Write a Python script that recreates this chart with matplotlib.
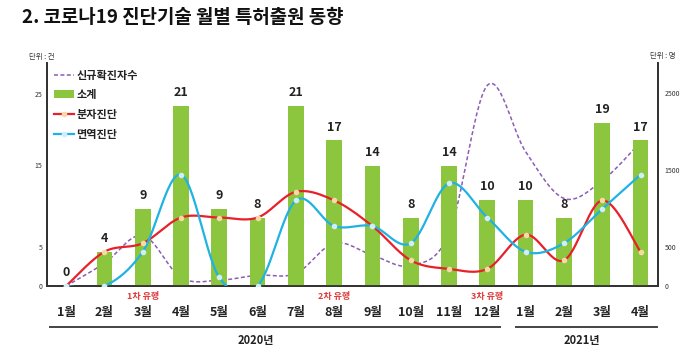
import numpy as np
import matplotlib
matplotlib.use("Agg")
import matplotlib.pyplot as plt
from matplotlib.lines import Line2D
from matplotlib.patches import Patch

plt.rcParams['font.family'] = ['Noto Sans CJK KR', 'DejaVu Sans']

# ---------------- data ----------------
months = ['1월', '2월', '3월', '4월', '5월', '6월', '7월', '8월', '9월', '10월', '11월', '12월',
          '1월', '2월', '3월', '4월']
subtotal = [0, 4, 9, 21, 9, 8, 21, 17, 14, 8, 14, 10, 10, 8, 19, 17]          # 소계 (건)
molecular = [0, 4, 5, 8, 8, 8, 11, 10, 7, 3, 2, 2, 6, 3, 10, 4]                # 분자진단 (건)
immuno = [0, 0, 4, 13, 1, 0, 10, 7, 7, 5, 12, 8, 4, 5, 9, 13]                  # 면역진단 (건)
new_cases = [0, 295, 655, 110, 75, 140, 163, 555, 400, 265, 680, 2600,
             1740, 1135, 1365, 1865]                                            # 신규확진자수 (명)
left_tick_labels = ['0', '5', '15', '25']
right_ticks = [0, 500, 1500, 2500]
wave_labels = ['1차 유행', '2차 유행', '3차 유행']
wave_months = [2, 7, 11]
years = ['2020년', '2021년']


def smooth(xs, ys, n=30):
    """Excel-like smoothed line (Catmull-Rom style Bezier)."""
    P = np.column_stack([xs, ys]).astype(float)
    out = []
    m = len(P)
    t = np.linspace(0, 1, n)[:, None]
    for i in range(m - 1):
        p0 = P[i - 1] if i > 0 else P[i]
        p1 = P[i]
        p2 = P[i + 1]
        p3 = P[i + 2] if i + 2 < m else P[i + 1]
        c1 = p1 + (p2 - p0) / 6.0
        c2 = p2 - (p3 - p1) / 6.0
        seg = ((1 - t) ** 3) * p1 + 3 * ((1 - t) ** 2) * t * c1 + 3 * (1 - t) * t ** 2 * c2 + t ** 3 * p2
        out.append(seg if i == 0 else seg[1:])
    seg = np.vstack(out)
    return seg[:, 0], seg[:, 1]


x = np.arange(len(months))

fig = plt.figure(figsize=(6.99, 3.56), dpi=100)
ax = fig.add_axes([0.0668, 0.1966, 0.8742, 0.6264])
ax2 = ax.twinx()

GREEN = '#8cc63e'
RED = '#e8202a'
BLUE = '#1fb2e3'
PURPLE = '#8b5db3'
DARK = '#222222'

ax.set_zorder(2)
ax.patch.set_visible(False)
ax2.set_zorder(1)

ax.bar(x, subtotal, width=0.41, color=GREEN, zorder=1)
for xi, v in zip(x, subtotal):
    ax.annotate(str(v), (xi, v), xytext=(0, 5), textcoords='offset points',
                ha='center', va='bottom', fontsize=9, fontweight='bold', color=DARK)

sx, sy = smooth(x, molecular)
ax.plot(sx, sy, color=RED, lw=1.6, zorder=4, solid_capstyle='round')
ax.plot(x, molecular, ls='none', marker='o', ms=3, mfc='#f7d9a6', mec='#f7d9a6', zorder=5)

sx, sy = smooth(x, immuno)
ax.plot(sx, sy, color=BLUE, lw=1.6, zorder=4, solid_capstyle='round')
ax.plot(x, immuno, ls='none', marker='o', ms=3, mfc='#cdeefa', mec='#cdeefa', zorder=5)

sx, sy = smooth(x, new_cases)
ax2.plot(sx, sy, color=PURPLE, lw=1.1, ls=(0, (2.6, 1.6)), zorder=3)

ax.set_xlim(-0.507, 15.45)
ax.set_ylim(0, 26.05)
ax2.set_ylim(0, 26.05 * 110.9)

ax.set_yticks([0, 4.56, 14.1, 22.4], left_tick_labels)
ax2.set_yticks(right_ticks, [str(t) for t in right_ticks])
ax.tick_params(axis='y', length=0, labelsize=5, pad=3, labelcolor='#333333')
ax2.tick_params(axis='y', length=0, labelsize=5, pad=5, labelcolor='#333333')
ax.set_xticks([])
for a in (ax, ax2):
    a.spines['top'].set_visible(False)
    for s in ('left', 'right', 'bottom'):
        a.spines[s].set_color('#333333')
        a.spines[s].set_linewidth(1.3)

tr = ax.get_xaxis_transform()
for xi, m in zip(x, months):
    ax.text(xi, -0.1166, m, transform=tr, ha='center', va='center',
            fontsize=9, fontweight='bold', color=DARK)
for xi, w in zip(wave_months, wave_labels):
    ax.text(xi, -0.045, w, transform=tr, ha='center', va='center',
            fontsize=6.5, fontweight='bold', color='#e03a3a')

ax.add_line(Line2D([-0.42, 11.32], [-0.184, -0.184], transform=tr, color='#444444',
                   lw=1.4, clip_on=False))
ax.add_line(Line2D([11.74, 15.44], [-0.184, -0.184], transform=tr, color='#444444',
                   lw=1.4, clip_on=False))
ax.text(4.95, -0.243, years[0], transform=tr, ha='center', va='center',
        fontsize=8, fontweight='bold', color=DARK)
ax.text(13.46, -0.243, years[1], transform=tr, ha='center', va='center',
        fontsize=8, fontweight='bold', color=DARK)

fig.text(0.031, 0.952, '2. 코로나19 진단기술 월별 특허출원 동향', ha='left', va='center',
         fontsize=13.6, fontweight='bold', color='#111111')
fig.text(42 / 699, 1 - 57 / 356, '단위 : 건', ha='center', va='center', fontsize=5.3, color='#333333')
fig.text(663 / 699, 1 - 56 / 356, '단위 : 명', ha='center', va='center', fontsize=5.3, color='#333333')

handles = [
    Line2D([], [], color=PURPLE, lw=1.1, ls=(0, (2.6, 1.6))),
    Patch(facecolor=GREEN, edgecolor='none'),
    Line2D([], [], color=RED, lw=1.6, marker='o', ms=3, mfc='#f7d9a6', mec='#f7d9a6'),
    Line2D([], [], color=BLUE, lw=1.6, marker='o', ms=3, mfc='#cdeefa', mec='#cdeefa'),
]
labels = ['신규확진자수', '소계', '분자진단', '면역진단']
leg = ax.legend(handles, labels, loc='upper left', bbox_to_anchor=(0.012, 0.975),
                frameon=False, fontsize=8, handlelength=1.8, handletextpad=0.2,
                labelspacing=0.6, borderpad=0, borderaxespad=0, numpoints=1)
for t in leg.get_texts():
    t.set_fontweight('bold')
    t.set_color(DARK)

fig.savefig('out.png', dpi=100)
